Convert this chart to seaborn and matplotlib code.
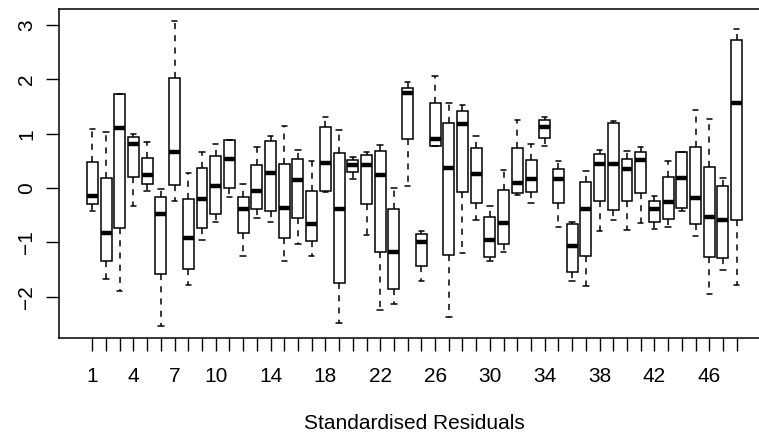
import numpy as np
import pandas as pd
import matplotlib
matplotlib.use("Agg")
import matplotlib.pyplot as plt
import seaborn as sns

# Five-number summaries (48 groups)
groups = list(range(1, 49))
whisker_low = [-0.43, -1.68, -1.90, -0.33, -0.06, -2.53, -0.23, -1.79, -0.95, -0.63,
               -0.16, -1.25, -0.55, -0.62, -1.34, -1.02, -1.25, -0.07, -2.48, 0.17,
               -0.86, -2.24, -2.13, 0.04, -1.71, 0.77, -2.38, -1.20, -0.58, -1.34,
               -1.17, -0.12, -0.27, 0.77, -0.71, -1.71, -1.81, -0.79, -0.58, -0.78,
               -0.65, -0.76, -0.71, -0.43, -0.88, -1.95, -1.51, -1.78]
q1 = [-0.30, -1.34, -0.73, 0.21, 0.07, -1.58, 0.06, -1.48, -0.74, -0.47,
      0.01, -0.82, -0.38, -0.42, -0.92, -0.55, -0.98, -0.06, -1.74, 0.29,
      -0.29, -1.18, -1.86, 0.90, -1.43, 0.77, -1.24, -0.07, -0.28, -1.27,
      -1.03, -0.09, -0.08, 0.92, -0.28, -1.55, -1.25, -0.24, -0.41, -0.23,
      -0.09, -0.62, -0.57, -0.36, -0.66, -1.27, -1.29, -0.58]
median = [-0.14, -0.83, 1.10, 0.82, 0.25, -0.48, 0.66, -0.91, -0.20, 0.03,
          0.53, -0.39, -0.06, 0.28, -0.36, 0.15, -0.66, 0.47, -0.39, 0.42,
          0.42, 0.25, -1.17, 1.76, -1.00, 0.91, 0.37, 1.18, 0.26, -0.96,
          -0.65, 0.09, 0.16, 1.13, 0.17, -1.06, -0.39, 0.44, 0.45, 0.36,
          0.52, -0.39, -0.25, 0.18, -0.18, -0.53, -0.59, 1.56]
q3 = [0.48, 0.18, 1.73, 0.95, 0.56, -0.17, 2.02, -0.20, 0.37, 0.59,
      0.88, -0.16, 0.42, 0.86, 0.45, 0.53, -0.06, 1.13, 0.65, 0.51,
      0.61, 0.69, -0.38, 1.85, -0.84, 1.56, 1.19, 1.42, 0.74, -0.53,
      -0.04, 0.74, 0.52, 1.26, 0.35, -0.66, 0.12, 0.62, 1.19, 0.53,
      0.67, -0.24, 0.21, 0.66, 0.76, 0.39, 0.04, 2.73]
whisker_high = [1.09, 1.03, 1.74, 0.99, 0.85, -0.02, 3.07, 0.27, 0.66, 0.82,
                0.89, 0.08, 0.76, 0.96, 1.14, 0.71, 0.49, 1.31, 1.07, 0.58,
                0.66, 0.80, 0.00, 1.95, -0.79, 2.07, 1.57, 1.53, 0.96, -0.33,
                0.33, 1.25, 0.82, 1.31, 0.49, -0.62, 0.32, 0.71, 1.24, 0.69,
                0.76, -0.14, 0.50, 0.67, 1.44, 1.28, 0.18, 2.93]
shown_labels = [1, 4, 7, 10, 14, 18, 22, 26, 30, 34, 38, 42, 46]
y_ticks = [-2, -1, 0, 1, 2, 3]
x_title = "Standardised Residuals"

rows = []
for g, a, b, c, d, e in zip(groups, whisker_low, q1, median, q3, whisker_high):
    for v in (a, b, c, d, e):
        rows.append({"group": g, "value": v})
df = pd.DataFrame(rows)

sns.set_style("white")
plt.rcParams["font.family"] = ["Liberation Sans", "DejaVu Sans"]
plt.rcParams["axes.edgecolor"] = "black"

fig = plt.figure(figsize=(7.59, 4.36), dpi=100)
ax = fig.add_axes([59 / 759, 1 - 337.7 / 436, 711 / 759, (337.7 - 9.3) / 436])

sns.boxplot(data=df, x="group", y="value", order=groups, color="white",
            saturation=1, linecolor="black", linewidth=1.1, width=0.8,
            whis=np.inf, fliersize=0,
            medianprops=dict(linewidth=3.2, solid_capstyle="butt"),
            whiskerprops=dict(linestyle=(0, (4, 4))),
            ax=ax)

ax.set_xlim(-2.43, 49.43)
ax.set_ylim(-2.754, 3.292)
ax.set_xticks(range(len(groups)))
ax.set_xticklabels([str(g) if g in shown_labels else "" for g in groups])
ax.set_yticks(y_ticks)
ax.set_yticklabels([str(t).replace("-", "\u2212") for t in y_ticks],
                   rotation=90, va="center")
ax.tick_params(axis="both", direction="out", length=9.4, width=1.0,
               color="black", labelsize=15, labelcolor="black",
               bottom=True, left=True, top=False, right=False)
ax.tick_params(axis="x", pad=12)
ax.tick_params(axis="y", pad=7)
for s in ax.spines.values():
    s.set_linewidth(1.1)
    s.set_color("black")
ax.set_ylabel("")
ax.set_xlabel(x_title, fontsize=15, color="black")
ax.xaxis.set_label_coords(0.5, -0.233)

fig.savefig("out.png", dpi=100)
